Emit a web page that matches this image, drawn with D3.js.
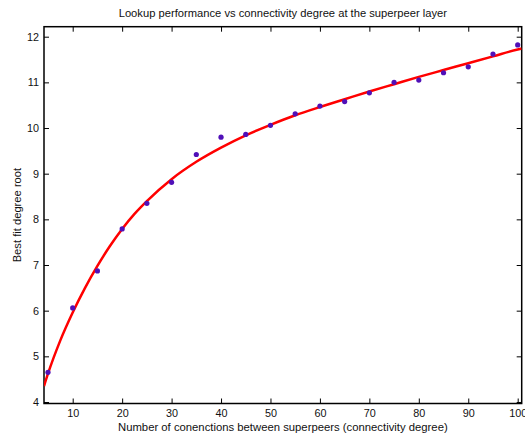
<!DOCTYPE html>
<html><head><meta charset="utf-8">
<script src="https://cdn.jsdelivr.net/npm/d3@7"></script>
<style>
body{margin:0;background:#fff;}
svg{display:block;font-family:"Liberation Sans",Arial,Helvetica,sans-serif;}
</style></head>
<body>
<svg id="chart" width="525" height="435"></svg>
<script>
const title = "Lookup performance vs connectivity degree at the superpeer layer";
const xLabel = "Number of conenctions between superpeers (connectivity degree)";
const yLabel = "Best fit degree root";
const xTicks = [10,20,30,40,50,60,70,80,90,100];
const yTicks = [4,5,6,7,8,9,10,11,12];
// measured points
const pointX = [5,10,15,20,25,30,35,40,45,50,55,60,65,70,75,80,85,90,95,100];
const pointY = [4.65,6.06,6.87,7.79,8.35,8.81,9.42,9.80,9.86,10.06,10.31,10.48,10.58,10.77,11.00,11.05,11.21,11.34,11.62,11.82];
// fitted curve
const fitX = [4.2,5,7.5,10,12.5,15,17.5,20,22.5,25,30,35,40,45,50,55,60,65,70,75,80,85,90,95,100,100.8];
const fitY = [4.35,4.62,5.35,5.96,6.50,6.98,7.41,7.79,8.12,8.40,8.88,9.26,9.57,9.84,10.07,10.28,10.46,10.63,10.80,10.96,11.12,11.27,11.42,11.57,11.72,11.74];

const svg = d3.select("#chart");
const L = 44, R = 521.7, T = 26.7, B = 403.5;
const x = d3.scaleLinear().domain([4.195,100.81]).range([L,R]);
const y = d3.scaleLinear().domain([3.967,12.219]).range([B,T]);

const g = svg.append("g");
svg.append("clipPath").attr("id","clip").append("rect")
  .attr("x",L).attr("y",T).attr("width",R-L).attr("height",B-T);

const tl = 5;
const axB = g.append("g").attr("transform",`translate(0,${B})`)
  .call(d3.axisBottom(x).tickValues(xTicks).tickSize(-tl).tickPadding(6).tickFormat(d3.format("d")));
const axT = g.append("g").attr("transform",`translate(0,${T})`)
  .call(d3.axisTop(x).tickValues(xTicks).tickSize(-tl).tickFormat(""));
const axL = g.append("g").attr("transform",`translate(${L},0)`)
  .call(d3.axisLeft(y).tickValues(yTicks).tickSize(-tl).tickPadding(5).tickFormat(d3.format("d")));
const axR = g.append("g").attr("transform",`translate(${R},0)`)
  .call(d3.axisRight(y).tickValues(yTicks).tickSize(-tl).tickFormat(""));
[axB,axT,axL,axR].forEach(a=>{
  a.select(".domain").remove();
  a.selectAll(".tick line").attr("stroke","#000").attr("stroke-width",1);
  a.selectAll("text").attr("font-size",10.8).attr("fill","#111")
   .style("font-family","'Liberation Sans',Arial,sans-serif");
});
g.append("rect").attr("x",L).attr("y",T).attr("width",R-L).attr("height",B-T)
  .attr("fill","none").attr("stroke","#000").attr("stroke-width",1.5);

const fit = fitX.map((d,i)=>[d,fitY[i]]);
g.append("path").datum(fit)
  .attr("clip-path","url(#clip)")
  .attr("fill","none").attr("stroke","#ff0000").attr("stroke-width",2.5)
  .attr("d", d3.line().x(d=>x(d[0])).y(d=>y(d[1])).curve(d3.curveMonotoneX));

g.selectAll("circle.pt").data(pointX.map((d,i)=>[d,pointY[i]])).enter()
  .append("circle").attr("class","pt")
  .attr("cx",d=>x(d[0])).attr("cy",d=>y(d[1])).attr("r",2.6)
  .attr("fill","#5010b8");

svg.append("text").attr("x",(L+R)/2).attr("y",17).attr("text-anchor","middle")
  .attr("font-size",11.2).attr("fill","#111").text(title);
svg.append("text").attr("x",(L+R)/2).attr("y",430.5).attr("text-anchor","middle")
  .attr("font-size",11.3).attr("fill","#111").text(xLabel);
svg.append("text").attr("transform",`translate(21,${(T+B)/2}) rotate(-90)`)
  .attr("text-anchor","middle").attr("font-size",11.2).attr("fill","#111").text(yLabel);
</script>
</body></html>
